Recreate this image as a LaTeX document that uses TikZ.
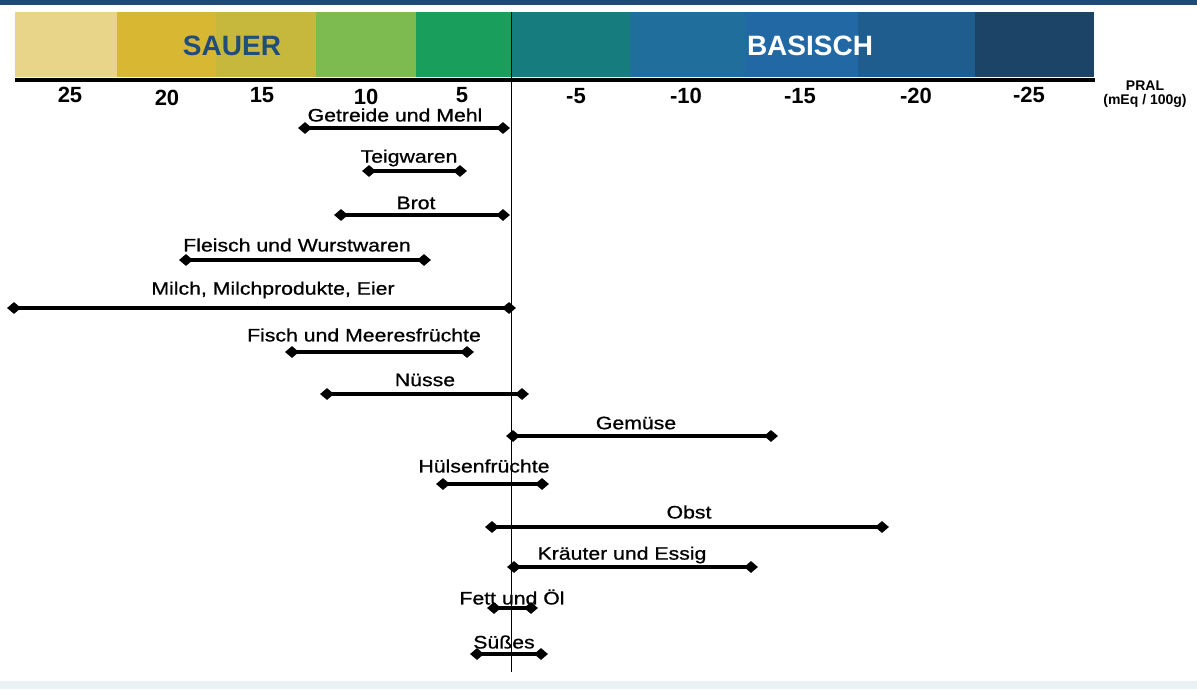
\documentclass[tikz,border=0pt]{standalone}
\usepackage{fontspec}
\setmainfont{Liberation Sans}
\newfontfamily\pralfont[FakeStretch=1.18,FakeBold=0.8]{Liberation Sans}
\usetikzlibrary{shapes.geometric,positioning}

\definecolor{bandA}{HTML}{E8D58A}
\definecolor{bandB}{HTML}{D8B733}
\definecolor{bandC}{HTML}{C5B83C}
\definecolor{bandD}{HTML}{7DBA50}
\definecolor{bandE}{HTML}{1A9E5B}
\definecolor{bandF}{HTML}{177C7E}
\definecolor{bandG}{HTML}{1F6E9B}
\definecolor{bandH}{HTML}{2268A4}
\definecolor{bandI}{HTML}{1F5D8E}
\definecolor{bandJ}{HTML}{1B4467}
\definecolor{topband}{HTML}{1F4A75}
\definecolor{footband}{HTML}{EAF1F5}
\definecolor{sauerblue}{HTML}{1F4E79}

\def \pralbands {15/117/bandA,117/216/bandB,216/316/bandC,316/416/bandD,416/511/bandE,511/630/bandF,630/745/bandG,745/858/bandH,858/975/bandI,975/1094/bandJ}
\def \pralticks {25/70/95,20/167/98,15/262/95,10/366/97,5/462/95,-5/576/96,-10/686/96,-15/800/96,-20/916/96,-25/1029/95}
\def \pralbars {Getreide und Mehl/305/503/128/395/115,Teigwaren/369/460/171/409/158,Brot/341/503/215/416/203,Fleisch und Wurstwaren/186/424/260/297/245,{Milch, Milchprodukte, Eier}/14/509/308/273/290,Fisch und Meeresfrüchte/292/467/352/364/335,Nüsse/327/522/394/425/380,Gemüse/513/771/436/636/423,Hülsenfrüchte/443/542/484/484/466,Obst/492/882/527/689/512,Kräuter und Essig/514/751/567/622/555,Fett und Öl/494/531/608/512/597,Süßes/477/541/654/504/642}

\begin{document}
\begin{tikzpicture}
   [x=1pt, y=-1pt,
   ticklabel/.style={font=\fontsize{22}{24}\selectfont\bfseries, inner sep=0pt},
   zone/.style={font=\fontsize{28}{30}\selectfont\bfseries, inner sep=0pt},
   unitlabel/.style={font=\fontsize{14}{16}\selectfont\bfseries, inner sep=0pt},
   food/.style={font=\pralfont\fontsize{18}{20}\selectfont, inner sep=0pt},
   endmark/.style={diamond, fill=black, draw=none, inner sep=0pt, minimum width=14pt, minimum height=12pt},
   rangebar/.style={line width=4pt}]
\useasboundingbox (0,0) rectangle (1197,689);
\fill[topband] (0,0) rectangle (1197,5);
\fill[footband] (0,681) rectangle (1197,689);

% colour scale
\foreach \xa / \xb / \col in \pralbands {
   \fill[\col] (\xa,12) rectangle (\xb,77); }
\draw[line width=4pt] (15,79.5) -- (1095,79.5);
\node[zone, text=sauerblue] (sauer) at (232,46) {SAUER};
\node[zone, text=white] (basisch) at (810,46) {BASISCH};

\foreach \val / \x / \y in \pralticks {
   \node[ticklabel] at (\x,\y) {\val}; }
\node[unitlabel] (pral) at (1145,86) {PRAL};
\node[unitlabel, below=3pt of pral] (mEq) {(mEq / 100g)};

% zero line
\draw[thin] (511,12) -- (511,672);

% food groups
\foreach \lab / \xl / \xr / \y / \tx / \ty [count=\i] in \pralbars {
   \node[endmark] (l\i) at (\xl,\y) {};
   \node[endmark] (r\i) at (\xr,\y) {};
   \draw[rangebar] (l\i.center) -- (r\i.center);
   \node[food] (t\i) at (\tx,\ty) {\lab};}
\end{tikzpicture}
\end{document}
